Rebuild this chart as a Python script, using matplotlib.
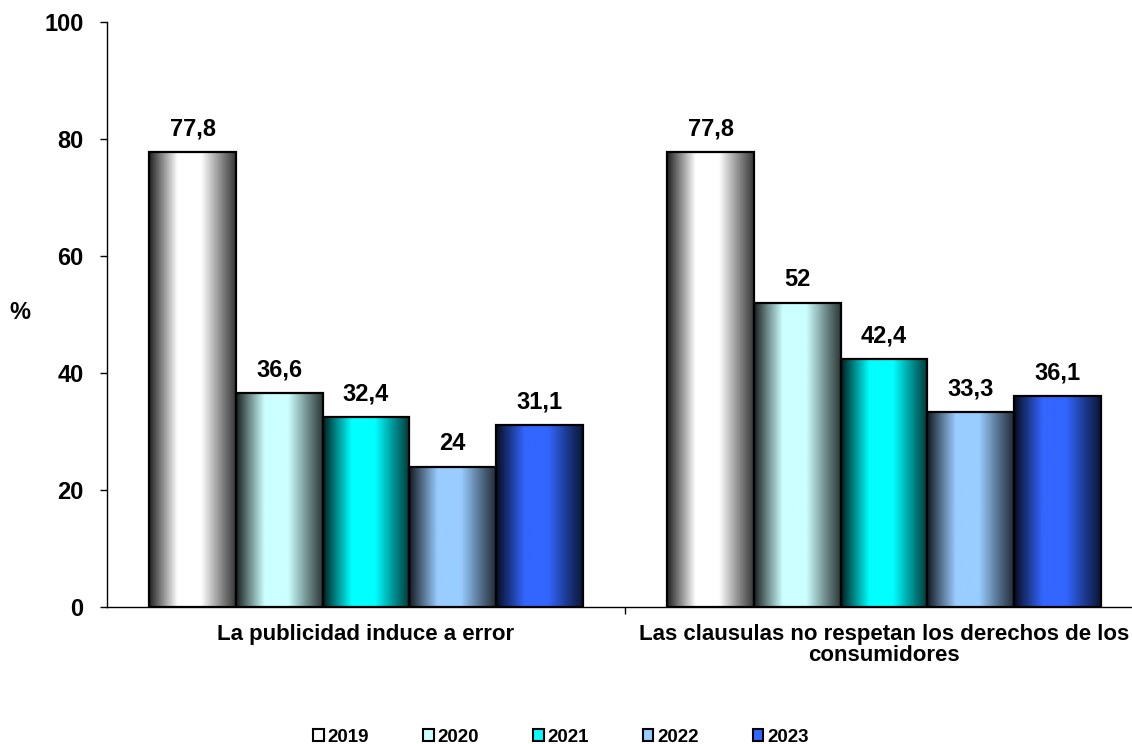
import numpy as np
import matplotlib
matplotlib.use("Agg")
import matplotlib.pyplot as plt
from matplotlib.patches import Rectangle
from matplotlib.colors import to_rgb

plt.rcParams['font.family'] = ['Liberation Sans', 'DejaVu Sans']

categories = ["La publicidad induce a error",
              "Las clausulas no respetan los derechos de los\nconsumidores"]
years = ["2019", "2020", "2021", "2022", "2023"]
values = {
    "2019": [77.8, 77.8],
    "2020": [36.6, 52.0],
    "2021": [32.4, 42.4],
    "2022": [24.0, 33.3],
    "2023": [31.1, 36.1],
}
labels = {
    "2019": ["77,8", "77,8"],
    "2020": ["36,6", "52"],
    "2021": ["32,4", "42,4"],
    "2022": ["24", "33,3"],
    "2023": ["31,1", "36,1"],
}
light_colors = {
    "2019": "#ffffff",
    "2020": "#ccffff",
    "2021": "#00ffff",
    "2022": "#99ccff",
    "2023": "#3366ff",
}

fig = plt.figure(figsize=(11.32, 7.44), dpi=100)
ax = fig.add_axes([107 / 1132, 137 / 744, 1036 / 1132, 585 / 744])

x = np.arange(len(categories))
group_w = 0.836
bw = group_w / len(years)

# horizontal shading profile across a bar (0 = dark edge, 1 = full colour)
prof_t = [0.0, 0.12, 0.33, 0.6, 0.85, 1.0]
prof_f = [0.12, 0.45, 1.0, 1.0, 0.5, 0.22]
tt = np.linspace(0, 1, 200)
shade = np.interp(tt, prof_t, prof_f)

for i, yr in enumerate(years):
    pos = x - group_w / 2 + bw * (i + 0.5)
    bars = ax.bar(pos, values[yr], width=bw, facecolor="none",
                  edgecolor="black", linewidth=1.6, zorder=3)
    base = np.array(to_rgb(light_colors[yr]))
    grad = (shade[:, None] * base[None, :])[None, :, :]
    for b, lab in zip(bars, labels[yr]):
        x0, y0 = b.get_x(), b.get_y()
        w, h = b.get_width(), b.get_height()
        ax.imshow(grad, extent=[x0, x0 + w, y0, y0 + h], aspect="auto",
                  interpolation="bilinear", zorder=2)
        ax.annotate(lab, (x0 + w / 2, y0 + h), xytext=(0, 12),
                    textcoords="offset points", ha="center", va="baseline",
                    fontsize=17, fontweight="bold")

ax.set_xlim(-0.5, 1.5)
ax.set_ylim(0, 100)
ax.set_yticks([0, 20, 40, 60, 80, 100])
ax.tick_params(axis="y", labelsize=17, length=5, width=1, pad=12)
for t in ax.get_yticklabels():
    t.set_fontweight("bold")

ax.set_xticks(x)
ax.set_xticklabels(categories, fontsize=16, fontweight="bold", linespacing=1.05)
ax.tick_params(axis="x", length=0, pad=12)
ax.set_xticks([0.5], minor=True)
ax.tick_params(axis="x", which="minor", length=5, width=1)

ax.spines["top"].set_visible(False)
ax.spines["right"].set_visible(False)
ax.spines["left"].set_linewidth(1)
ax.spines["bottom"].set_linewidth(1)

fig.text(20 / 1132, 1 - 313 / 744, "%", fontsize=17, fontweight="bold",
         ha="center", va="center")

handles = [Rectangle((0, 0), 1, 1, facecolor=light_colors[yr],
                     edgecolor="black", linewidth=1.5) for yr in years]
leg = fig.legend(handles, years, loc="center", bbox_to_anchor=(561 / 1132, 1 - 737 / 744),
                 ncol=5, frameon=False, handlelength=0.55, handleheight=0.55,
                 handletextpad=0.2, columnspacing=2.9,
                 prop={"weight": "bold", "size": 13.5})

fig.savefig("out.png", dpi=100)
